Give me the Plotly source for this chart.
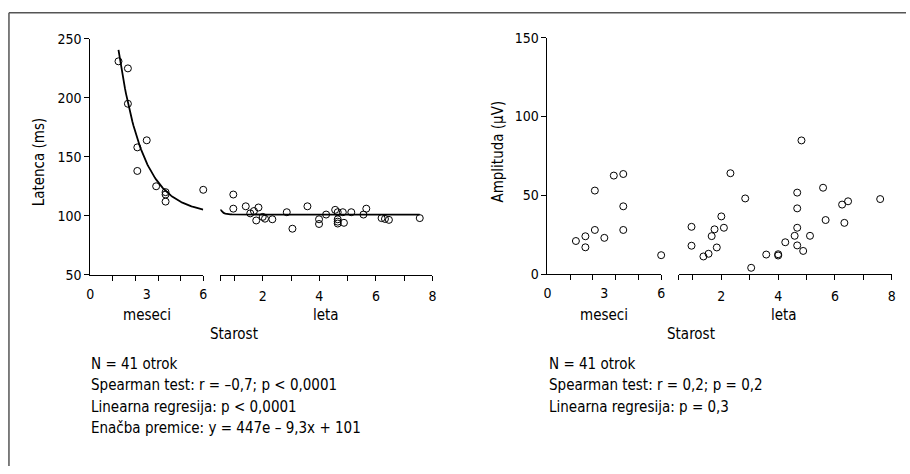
import numpy as np
import plotly.graph_objects as go

W, H = 910, 474
FONT = "DejaVu Sans Condensed, Liberation Sans Narrow, sans-serif"

# ---------------- data ----------------
# infants (age in months)
age_months = [1.5, 2.0, 2.0, 2.5, 2.5, 3.0, 3.5, 4.0, 4.0, 4.0, 6.0]
latency_months = [231, 225, 195, 158, 138, 164, 125, 120, 118, 112, 122]
age_months_amp = [1.5, 2.0, 2.0, 2.5, 2.5, 3.0, 3.5, 4.0, 4.0, 4.0, 6.0]
amplitude_months = [21, 24, 17, 53, 28, 23, 62.5, 63.5, 43, 28, 12]

# children (age in years)
age_years = [0.96, 0.96, 1.40, 1.56, 1.69, 1.85, 1.77, 2.00, 2.08, 2.34, 2.85, 3.05,
             3.58, 3.99, 3.99, 4.24, 4.56, 4.65, 4.65, 4.65, 4.65, 4.83, 4.87, 5.13,
             5.56, 5.66, 6.20, 6.32, 6.46, 7.55]
latency_years = [118, 106, 108, 102, 104, 107, 96, 99, 97.5, 97, 103, 89,
                 108, 97, 93, 101, 105, 103, 97, 95, 93.4, 103, 94, 103,
                 101, 106, 98, 97.3, 96.5, 98]
age_years_amp = [0.95, 0.95, 1.37, 1.55, 1.66, 1.76, 1.84, 2.00, 2.09, 2.32, 2.84, 3.05,
                 3.58, 4.00, 4.00, 4.25, 4.58, 4.67, 4.67, 4.67, 4.67, 4.82, 4.88, 5.12,
                 5.58, 5.67, 6.25, 6.33, 6.46, 7.59]
amplitude_years = [30, 18, 11.2, 12.9, 24.1, 28.4, 16.9, 36.6, 29.4, 64, 48, 4,
                   12.4, 12.6, 11.8, 20.2, 24.3, 51.7, 41.7, 29.4, 18.2, 84.8, 14.7, 24.3,
                   54.8, 34.3, 44.1, 32.5, 46.2, 47.6]

# regression curve  y = 447 e^(-9.3 x) + 101  (x in years)
fit_a, fit_k, fit_c = 447, 9.3, 101

month_ticks = [1.2, 2.4, 3.6, 4.8, 6]
month_labels = ["0", "3", "6"]
month_label_vals = [0, 3, 6]
year_tickvals = [0.5, 1, 2, 3, 4, 5, 6, 7, 8]
year_ticktext = ["", "", "2", "", "4", "", "6", "", "8"]
lat_ticks = [50, 100, 150, 200, 250]
amp_ticks = [0, 50, 100, 150]

stats_left = ["N = 41 otrok",
              "Spearman test: r = –0,7; p < 0,0001",
              "Linearna regresija: p < 0,0001",
              "Enačba premice: y = 447e – 9,3x + 101"]
stats_right = ["N = 41 otrok",
               "Spearman test: r = 0,2; p = 0,2",
               "Linearna regresija: p = 0,3"]

# ---------------- figure ----------------
m_curve = np.linspace(min(age_months), 6, 80)
y_curve = np.linspace(0.5, max(age_years), 120)

marker = dict(symbol="circle-open", size=7, color="black", line=dict(width=1, color="black"))

fig = go.Figure()
fig.add_trace(go.Scatter(x=m_curve, y=fit_a * np.exp(-fit_k * m_curve / 12) + fit_c,
                         mode="lines", line=dict(color="black", width=1.8),
                         xaxis="x", yaxis="y", hoverinfo="skip"))
fig.add_trace(go.Scatter(x=y_curve, y=fit_a * np.exp(-fit_k * y_curve) + fit_c,
                         mode="lines", line=dict(color="black", width=1.8),
                         xaxis="x2", yaxis="y", hoverinfo="skip"))
fig.add_trace(go.Scatter(x=age_months, y=latency_months, mode="markers", marker=marker,
                         xaxis="x", yaxis="y", cliponaxis=False))
fig.add_trace(go.Scatter(x=age_years, y=latency_years, mode="markers", marker=marker,
                         xaxis="x2", yaxis="y", cliponaxis=False))
fig.add_trace(go.Scatter(x=age_months_amp, y=amplitude_months, mode="markers", marker=marker,
                         xaxis="x3", yaxis="y2", cliponaxis=False))
fig.add_trace(go.Scatter(x=age_years_amp, y=amplitude_years, mode="markers", marker=marker,
                         xaxis="x4", yaxis="y2", cliponaxis=False))
# invisible traces so the month-label axes (overlays) are drawn
fig.add_trace(go.Scatter(x=[3], y=[150], mode="markers", marker=dict(opacity=0),
                         xaxis="x5", yaxis="y", hoverinfo="skip"))
fig.add_trace(go.Scatter(x=[3], y=[75], mode="markers", marker=dict(opacity=0),
                         xaxis="x6", yaxis="y2", hoverinfo="skip"))

tickfont = dict(family=FONT, size=14, color="black")
base_x = dict(showgrid=False, zeroline=False, showline=True, linecolor="black", linewidth=1,
              ticks="outside", ticklen=5, tickcolor="black", tickwidth=1, tickfont=tickfont,
              fixedrange=True)
label_x = dict(showgrid=False, zeroline=False, showline=False, ticks="", tickfont=tickfont,
               tickvals=month_label_vals, ticktext=month_labels, range=[0, 6], side="bottom",
               ticklabelstandoff=9)


def px_x(p):
    return p / W


def px_y(p):
    return 1 - p / H


fig.update_layout(
    width=W, height=H, margin=dict(l=0, r=0, t=0, b=0),
    paper_bgcolor="white", plot_bgcolor="rgba(0,0,0,0)", showlegend=False,
    font=dict(family=FONT, size=15, color="black"),
    xaxis=dict(base_x, domain=[px_x(87), px_x(201)], range=[0, 6], anchor="y",
               tickvals=month_ticks, showticklabels=False),
    xaxis5=dict(label_x, overlaying="x", anchor="y"),
    xaxis2=dict(base_x, domain=[px_x(218.2), px_x(432.3)], range=[0.5, 8], anchor="y",
                tickvals=year_tickvals, ticktext=year_ticktext, ticklabelstandoff=4),
    yaxis=dict(base_x, domain=[px_y(276), px_y(32)], range=[50, 250], anchor="x",
               tickvals=lat_ticks),
    xaxis3=dict(base_x, domain=[px_x(548.3), px_x(663)], range=[0, 6], anchor="y2",
                tickvals=month_ticks, showticklabels=False),
    xaxis6=dict(label_x, overlaying="x3", anchor="y2"),
    xaxis4=dict(base_x, domain=[px_x(680.7), px_x(895.7)], range=[0.5, 8], anchor="y2",
                tickvals=year_tickvals, ticktext=year_ticktext, ticklabelstandoff=4),
    yaxis2=dict(base_x, domain=[px_y(275.4), px_y(30.7)], range=[0, 150], anchor="x3",
                tickvals=amp_ticks),
)

ann = []


def text(x, y, s, xanchor="center", angle=0):
    ann.append(dict(x=px_x(x), y=px_y(y), xref="paper", yref="paper", text=s,
                    showarrow=False, xanchor=xanchor, yanchor="middle", textangle=angle,
                    font=dict(family=FONT, size=15, color="black")))


text(35, 159, "Latenca (ms)", angle=-90)
text(498, 149, "Amplituda (μV)", angle=-90)
for off in (0, 461.5):
    text(144 + off, 318, "meseci")
    text(325 + off, 318, "leta")
    text(232 + off, 337, "Starost")
for i, s in enumerate(stats_left):
    text(86, 368 + i * 22.3, s, xanchor="left")
for i, s in enumerate(stats_right):
    text(548, 368 + i * 22.3, s, xanchor="left")
fig.update_layout(annotations=ann)

# frame (top and left border of the figure box)
fig.add_shape(type="line", xref="paper", yref="paper", x0=px_x(5), x1=1, y0=px_y(5), y1=px_y(5),
              line=dict(color="#555555", width=1.5))
fig.add_shape(type="line", xref="paper", yref="paper", x0=px_x(5), x1=px_x(5), y0=px_y(5), y1=0,
              line=dict(color="#555555", width=1.5))

fig.write_html("out.html")
